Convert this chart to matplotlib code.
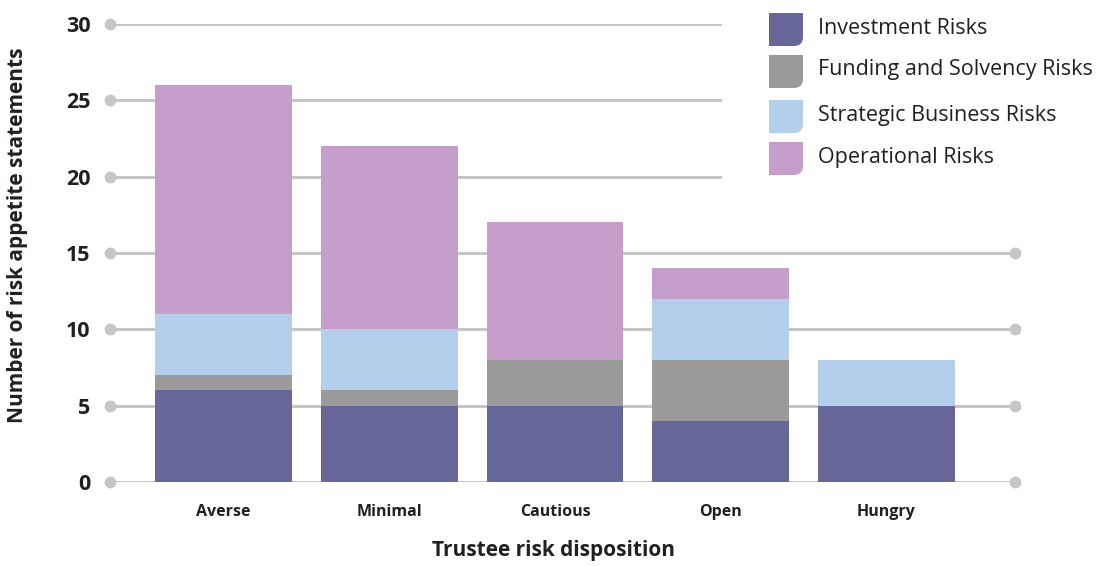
import matplotlib
matplotlib.use("Agg")
import matplotlib.pyplot as plt
import numpy as np
from matplotlib.path import Path
from matplotlib.patches import PathPatch, Rectangle

# risk appetite statements per trustee disposition
dispositions = ["Averse", "Minimal", "Cautious", "Open", "Hungry"]
investment = [6, 5, 5, 4, 5]
funding = [1, 1, 3, 4, 0]
strategic = [4, 4, 0, 4, 3]
operational = [15, 12, 9, 2, 0]

series = ["Investment Risks", "Funding and Solvency Risks",
          "Strategic Business Risks", "Operational Risks"]
colors = ["#676799", "#9a9a9a", "#b3cfec", "#c59fc9"]
yticks = [0, 5, 10, 15, 20, 25, 30]

plt.rcParams["font.family"] = ["Open Sans", "DejaVu Sans"]

W, H = 1096, 566
fig = plt.figure(figsize=(W / 100, H / 100), dpi=100)
ax = fig.add_axes([110 / W, (H - 482) / H, (1015 - 110) / W, (482 - 24) / H])

x = np.arange(len(dispositions))
ax.set_xlim(-0.685, 4.775)
ax.set_ylim(0, 30)

# grid lines with round dots at both ends
grid_col = "#c6c6c6"
for t in yticks:
    ax.axhline(t, color=grid_col, lw=2.2, zorder=1)
    ax.plot([-0.685, 4.775], [t, t], "o", ms=7.5, color=grid_col,
            clip_on=False, zorder=1)

bottom = np.zeros(len(x))
for vals, c, name in zip([investment, funding, strategic, operational], colors, series):
    ax.bar(x, vals, 0.825, bottom=bottom, color=c, label=name, zorder=2)
    bottom += np.array(vals)

for s in ax.spines.values():
    s.set_visible(False)
ax.set_yticks(yticks)
ax.set_yticklabels([str(t) for t in yticks], fontsize=15.5, fontweight="bold", color="#231f20")
ax.set_xticks(x)
ax.set_xticklabels(dispositions, fontsize=11.5, fontweight="bold", color="#231f20")
ax.tick_params(axis="y", length=0, pad=14)
ax.tick_params(axis="x", length=0, pad=16)
ax.set_xlabel("Trustee risk disposition", fontsize=15, fontweight="bold", color="#231f20")
ax.set_ylabel("Number of risk appetite statements", fontsize=15, fontweight="bold",
              color="#231f20")
ax.xaxis.set_label_coords(0.49, -0.127)
ax.yaxis.set_label_coords(-0.0905, 0.539)

# legend block, drawn in pixel space on top of the plot
inch = fig.dpi_scale_trans
fig.patches.append(Rectangle((7.22, (H - 188) / 100), 4.0, 2.0, transform=inch,
                             facecolor="white", edgecolor="none", zorder=3))


def leaf(x0, y0, w, h, r):
    verts = [(x0, y0), (x0, y0 + h), (x0 + w, y0 + h), (x0 + w, y0 + r),
             (x0 + w, y0), (x0 + w - r, y0), (x0, y0), (x0, y0)]
    codes = [Path.MOVETO, Path.LINETO, Path.LINETO, Path.LINETO,
             Path.CURVE3, Path.CURVE3, Path.LINETO, Path.CLOSEPOLY]
    return Path(verts, codes)


row_tops = [13, 55, 100, 142]
for top, c, name in zip(row_tops, colors, series):
    y0 = (H - top - 33) / 100
    fig.patches.append(PathPatch(leaf(7.69, y0, 0.34, 0.33, 0.09), transform=inch,
                                 facecolor=c, edgecolor="none", zorder=4))
    fig.text(8.18, y0 + 0.18, name, transform=inch, fontsize=15.5,
             va="center", ha="left", color="#231f20", zorder=5)

fig.savefig("out.png", dpi=100)
